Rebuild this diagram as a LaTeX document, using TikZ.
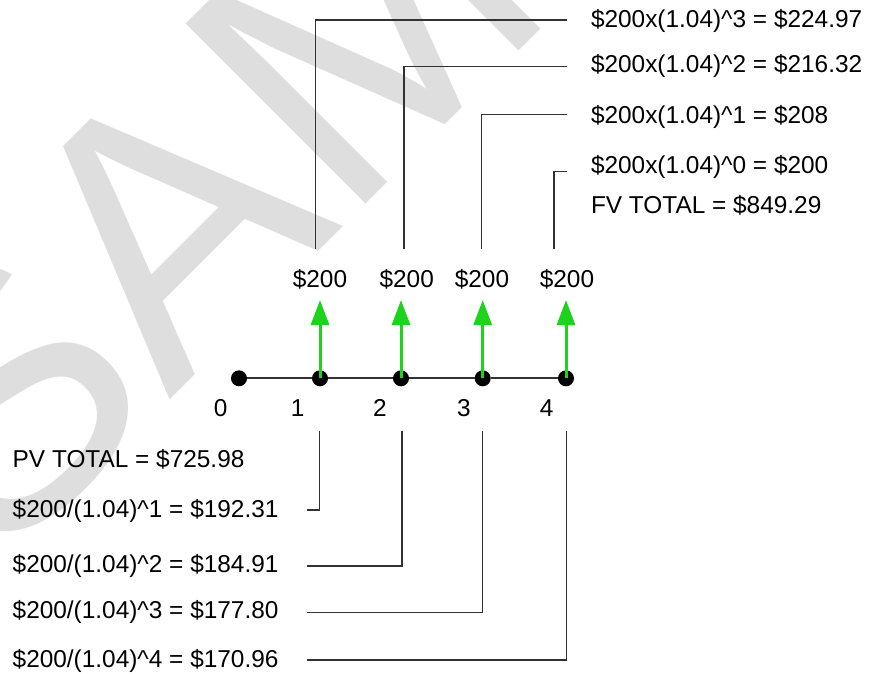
\documentclass[tikz,border=0pt]{standalone}
\usepackage{fontspec}
\setmainfont{Liberation Sans}
\usetikzlibrary{arrows.meta}
\definecolor{wm}{RGB}{222,222,222}
\definecolor{cf}{RGB}{30,210,30}
\definecolor{ln}{RGB}{50,50,50}
\begin{document}
\begin{tikzpicture}[x=1pt,y=-1pt,
  txt/.style={font=\fontsize{24.4}{29}\selectfont, inner sep=0pt, anchor=base west},
  lbl/.style={font=\fontsize{24.4}{29}\selectfont, inner sep=0pt, anchor=base},
  conn/.style={draw=ln, line width=1.4pt},
  axis/.style={draw=ln, line width=2pt},
  dot/.style={circle, fill=black, minimum size=16pt, inner sep=0pt},
  cash/.style={draw=cf, line width=3pt, -{Triangle[width=18pt,length=25pt]}}]
\useasboundingbox (0,0) rectangle (871,673);
\clip (0,0) rectangle (871,673);
% watermark
\node[font=\fontsize{370}{370}\selectfont, text=wm, rotate=45, anchor=base west, inner sep=0pt] (wmark) at (-5,575) {SAMPLE};

% timeline dots
\node[dot] (d0) at (239,378.3) {};
\node[dot] (d1) at (320,378.3) {};
\node[dot] (d2) at (401,378.3) {};
\node[dot] (d3) at (482.7,378.3) {};
\node[dot] (d4) at (566,378.3) {};
\draw[axis] (d0) -- (d1);
\draw[axis] (d1) -- (d2);
\draw[axis] (d2) -- (d3);
\draw[axis] (d3) -- (d4);

% period labels
\node[lbl] (n0) at (220.7,416.7) {0};
\node[lbl] (n1) at (297.7,416.7) {1};
\node[lbl] (n2) at (380,416.7) {2};
\node[lbl] (n3) at (464,416.7) {3};
\node[lbl] (n4) at (546.7,416.7) {4};

% cash flows
\coordinate (a1) at (320,300);
\coordinate (a2) at (401,300);
\coordinate (a3) at (482.7,300);
\coordinate (a4) at (566,300);
\draw[cash] (d1.center) -- (a1);
\draw[cash] (d2.center) -- (a2);
\draw[cash] (d3.center) -- (a3);
\draw[cash] (d4.center) -- (a4);
\node[lbl] (m1) at (320,287) {\$200};
\node[lbl] (m2) at (406.7,287) {\$200};
\node[lbl] (m3) at (482,287) {\$200};
\node[lbl] (m4) at (567,287) {\$200};

% future values
\node[txt] (f3) at (590.8,27) {\$200x(1.04)\textasciicircum3 = \$224.97};
\node[txt] (f2) at (590.8,72) {\$200x(1.04)\textasciicircum2 = \$216.32};
\node[txt] (f1) at (590.8,123) {\$200x(1.04)\textasciicircum1 = \$208};
\node[txt] (f0) at (590.8,173) {\$200x(1.04)\textasciicircum0 = \$200};
\node[txt] (fvt) at (590.8,213) {FV TOTAL = \$849.29};

% present values
\node[txt] (pvt) at (12.5,467) {PV TOTAL = \$725.98};
\node[txt] (p1) at (12.5,517) {\$200/(1.04)\textasciicircum1 = \$192.31};
\node[txt] (p2) at (12.5,572) {\$200/(1.04)\textasciicircum2 = \$184.91};
\node[txt] (p3) at (12.5,618) {\$200/(1.04)\textasciicircum3 = \$177.80};
\node[txt] (p4) at (12.5,667) {\$200/(1.04)\textasciicircum4 = \$170.96};

% top connectors
\coordinate (u1) at (315.7,249);
\coordinate (u2) at (404,249);
\coordinate (u3) at (481.3,249);
\coordinate (u4) at (554,249);
\coordinate (e3) at (566.7,20);
\coordinate (e2) at (566.7,66.7);
\coordinate (e1) at (566.7,114.3);
\coordinate (e0) at (566.7,171.7);
\draw[conn] (u1) |- (e3);
\draw[conn] (u2) |- (e2);
\draw[conn] (u3) |- (e1);
\draw[conn] (u4) |- (e0);

% bottom connectors
\coordinate (b1) at (319.3,430.7);
\coordinate (b2) at (402,430.7);
\coordinate (b3) at (482.3,430.7);
\coordinate (b4) at (566.3,430.7);
\coordinate (g1) at (307.3,510);
\coordinate (g2) at (307.3,566);
\coordinate (g3) at (307.3,612.7);
\coordinate (g4) at (307.3,660);
\draw[conn] (b1) |- (g1);
\draw[conn] (b2) |- (g2);
\draw[conn] (b3) |- (g3);
\draw[conn] (b4) |- (g4);
\end{tikzpicture}
\end{document}
